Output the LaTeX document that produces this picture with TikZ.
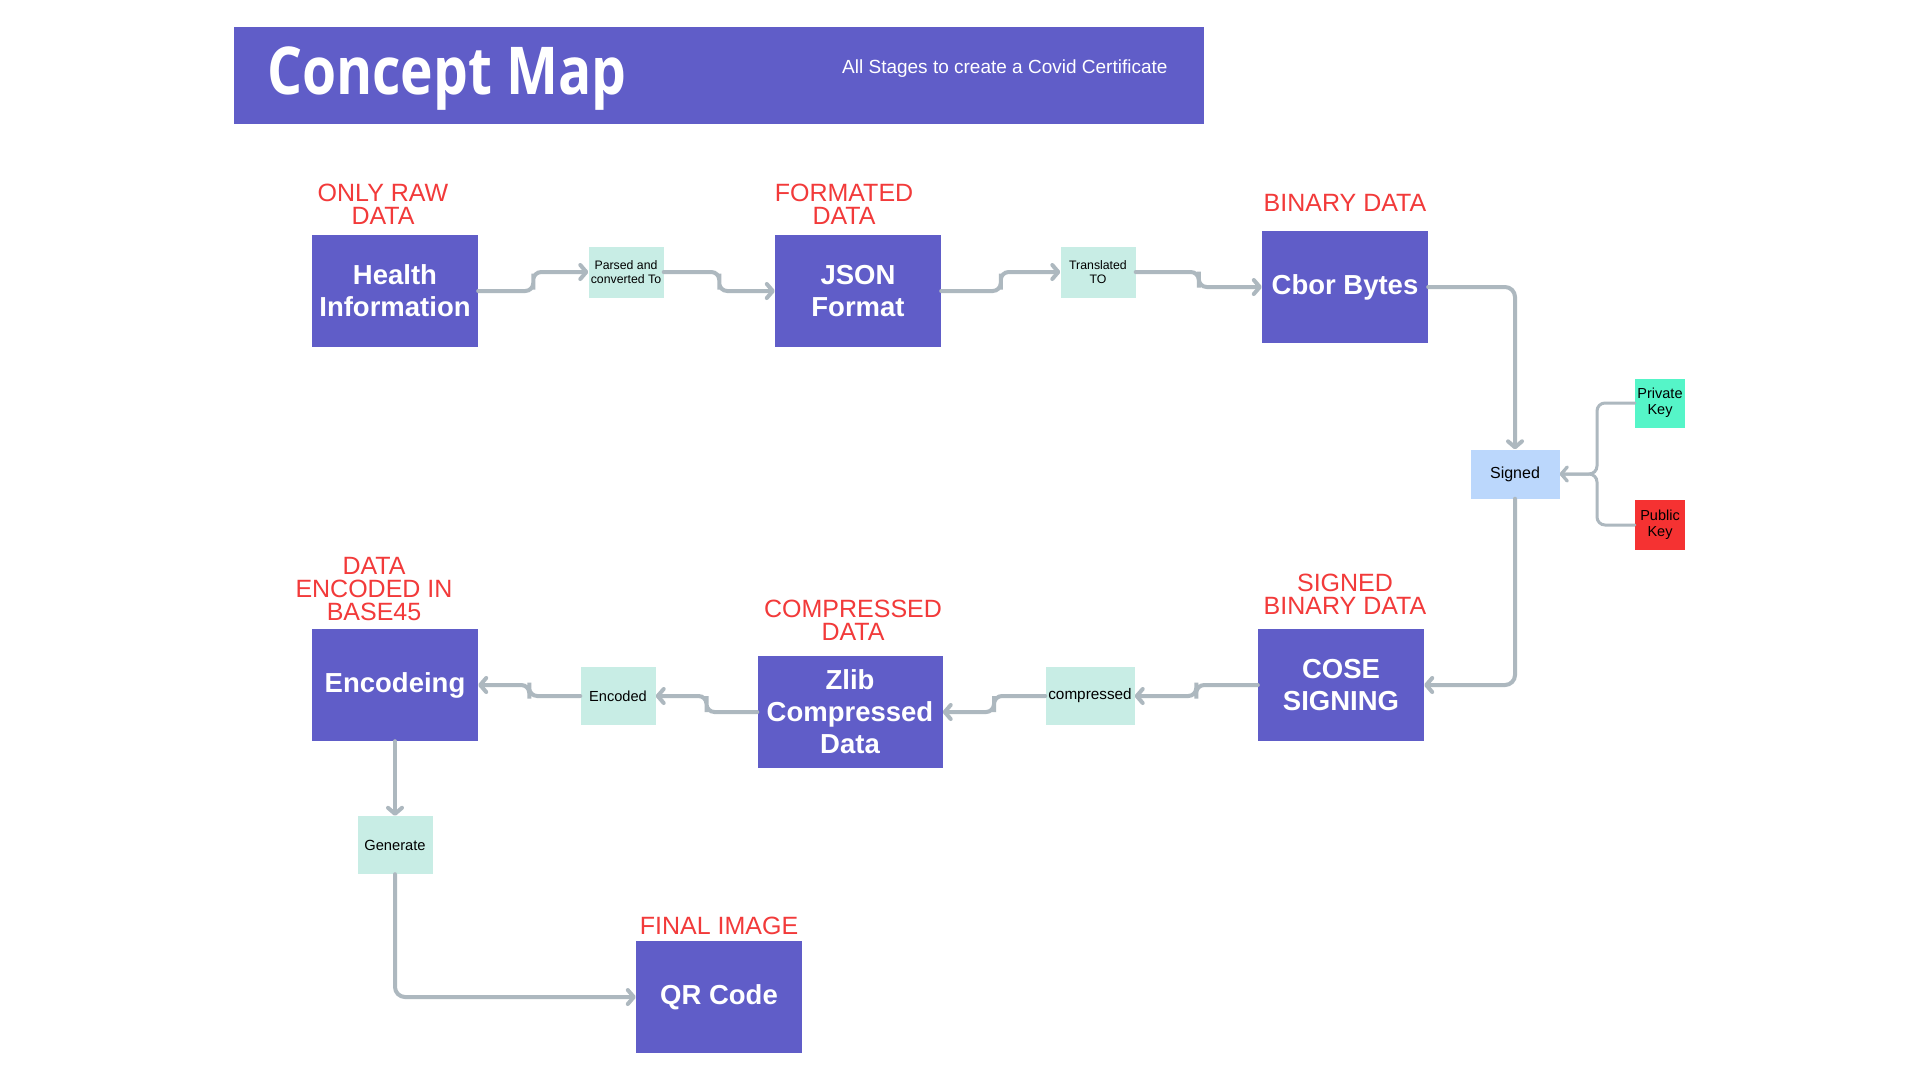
\documentclass[tikz,border=0pt]{standalone}
\usepackage{fontspec}
\setmainfont{Liberation Sans}
\newfontfamily\titlefont{Open Sans}
\usetikzlibrary{arrows.meta,calc}
\definecolor{boxc}{HTML}{605DC8}
\definecolor{mint}{HTML}{C8EDE5}
\definecolor{signc}{HTML}{BBD7FC}
\definecolor{privc}{HTML}{55F5C8}
\definecolor{pubc}{HTML}{F53232}
\definecolor{labred}{HTML}{F23A3A}
\definecolor{conc}{HTML}{ADB8BF}
\begin{document}
\begin{tikzpicture}[x=1pt,y=-1pt,
  mainbox/.style={fill=boxc, minimum width=166pt, minimum height=112pt, inner sep=0pt, text=white, font=\bfseries\fontsize{27.5}{32}\selectfont, align=center},
  smallbox/.style={fill=mint, inner sep=0pt, align=center, text=black},
  lab/.style={text=labred, font=\fontsize{25}{23}\selectfont, align=center, inner sep=0pt},
  conn/.style={draw=conc, line width=4pt, rounded corners=8pt, line cap=round, -{Straight Barb[length=6pt,width=14pt,round]}},
  keyconn/.style={conn, line width=3pt}
]
\useasboundingbox (0,0) rectangle (1920,1080);
\fill[white] (0,0) rectangle (1920,1080);

% banner
\node[fill=boxc, minimum width=970pt, minimum height=97pt, inner sep=0pt] (ban) at (719,75.5) {};
\node[anchor=base west, text=white, inner sep=0pt, font=\titlefont\bfseries\fontsize{66}{70}\selectfont] (tt) at (267,94) {\scalebox{0.835}[1]{Concept Map}};
\node[anchor=base west, text=white, inner sep=0pt, font=\fontsize{19}{22}\selectfont] (st) at (842,73) {All Stages to create a Covid Certificate};

% main boxes
\node[mainbox] (hi) at (395,291) {Health\\Information};
\node[mainbox] (js) at (858,291) {JSON\\Format};
\node[mainbox] (cb) at (1345,287) {Cbor Bytes};
\node[mainbox] (co) at (1341,685) {COSE\\SIGNING};
\node[mainbox, minimum width=185pt] (zl) at (850,712) {Zlib\\Compressed\\Data};
\node[mainbox] (en) at (395,685) {Encodeing};
\node[mainbox] (qr) at (719,997) {QR Code};

% small boxes
\node[smallbox, minimum width=75pt, minimum height=51pt, font=\fontsize{12.3}{14.7}\selectfont] (pa) at (626,272) {Parsed and\\converted To};
\node[smallbox, minimum width=75pt, minimum height=51pt, font=\fontsize{12.3}{14.7}\selectfont] (tr) at (1098,272) {Translated\\TO};
\node[fill=signc, inner sep=0pt, minimum width=89pt, minimum height=49pt, font=\fontsize{16}{18}\selectfont] (sg) at (1515,474) {Signed};
\node[fill=privc, inner sep=0pt, minimum width=50pt, minimum height=49pt, align=center, font=\fontsize{14.5}{16}\selectfont] (pk) at (1660,403) {Private\\Key};
\node[fill=pubc, inner sep=0pt, minimum width=50pt, minimum height=50pt, align=center, font=\fontsize{14.5}{16}\selectfont] (pu) at (1660,525) {Public\\Key};
\node[smallbox, minimum width=89pt, minimum height=58pt, font=\fontsize{15.3}{18}\selectfont] (cm) at (1090,696) {compressed};
\node[smallbox, minimum width=75pt, minimum height=58pt, font=\fontsize{14.6}{18}\selectfont] (ed) at (618,696) {Encoded};
\node[smallbox, minimum width=75pt, minimum height=58pt, font=\fontsize{14.7}{18}\selectfont] (ge) at (395,845) {Generate};

% red labels
\node[lab] (l1) at (383,204) {ONLY RAW\\DATA};
\node[lab] (l2) at (844,204) {FORMATED\\DATA};
\node[lab] (l3) at (1345,203) {BINARY DATA};
\node[lab] (l4) at (1345,594) {SIGNED\\BINARY DATA};
\node[lab] (l5) at (853,620) {COMPRESSED\\DATA};
\node[lab] (l6) at (374,589) {DATA\\ENCODED IN\\BASE45};
\node[lab] (l7) at (719,926) {FINAL IMAGE};

% connectors
\draw[conn] (hi.east) -| ($(hi.east)!.5!(pa.west)$) |- (pa.west);
\draw[conn] (pa.east) -| ($(pa.east)!.5!(js.west)$) |- (js.west);
\draw[conn] (js.east) -| ($(js.east)!.5!(tr.west)$) |- (tr.west);
\draw[conn] (tr.east) -| ($(tr.east)!.5!(cb.west)$) |- (cb.west);
\draw[conn, rounded corners=10pt] (cb.east) -| (sg.north);
\coordinate (j) at (1597,474);
\draw[keyconn] (pk.west) -| (j) -- (sg.east);
\draw[keyconn] (pu.west) -| (j) -- (sg.east);
\draw[conn, rounded corners=10pt] (sg.south) |- (co.east);
\draw[conn] (co.west) -| ($(co.west)!.5!(cm.east)$) |- (cm.east);
\draw[conn] (cm.west) -| ($(cm.west)!.5!(zl.east)$) |- (zl.east);
\draw[conn] (zl.west) -| ($(zl.west)!.5!(ed.east)$) |- (ed.east);
\draw[conn] (ed.west) -| ($(ed.west)!.5!(en.east)$) |- (en.east);
\draw[conn] (en.south) -- (ge.north);
\draw[conn, rounded corners=10pt] (ge.south) |- (qr.west);
\end{tikzpicture}
\end{document}
